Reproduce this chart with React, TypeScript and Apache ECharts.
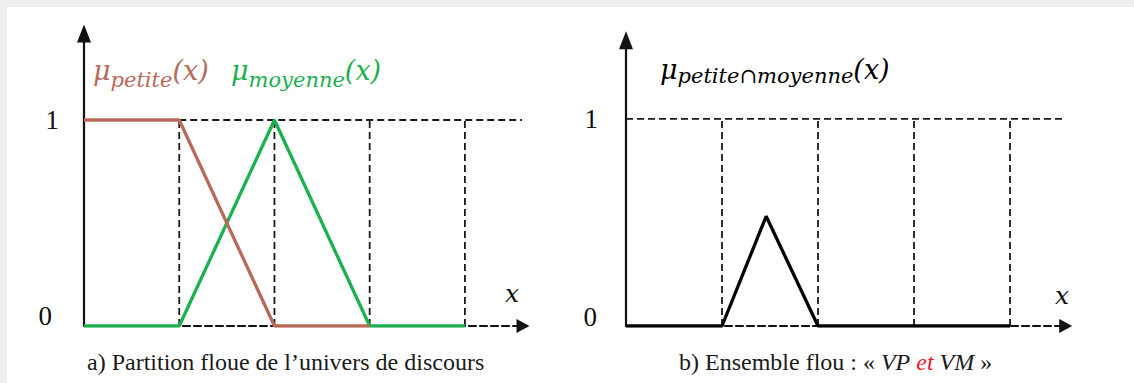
import React, { useEffect, useRef } from "react";
import * as echarts from "echarts";

// Membership functions over the universe of discourse
const gridTicks = [1, 2, 3, 4];
const yTickValues = [0, 1];
const petite: [number, number][] = [[0, 1], [1, 1], [2, 0], [3, 0]];
const moyenne: [number, number][] = [[0, 0], [1, 0], [2, 1], [3, 0], [4, 0]];
const intersection: [number, number][] = [[0, 0], [1, 0], [1.46, 0.53], [2, 0], [4, 0]];

const BROWN = "#b8695a";
const GREEN = "#1db04f";
const INK = "#111111";
const SERIF = "'Liberation Serif', 'Times New Roman', serif";
const MATH = "'DejaVu Serif', serif";

const dashStyle = { color: "#1a1a1a", width: 1.8, type: [7, 4] as number[] };

function guideSeries(axis: number, hEnd: number, hStart: number) {
  const out: any[] = gridTicks.map((t) => ({
    type: "line",
    xAxisIndex: axis,
    yAxisIndex: axis,
    data: [[t, 0], [t, 1]],
    symbol: "none",
    silent: true,
    z: 1,
    lineStyle: dashStyle,
  }));
  out.push({
    type: "line",
    xAxisIndex: axis,
    yAxisIndex: axis,
    data: [[hStart, 1], [hEnd, 1]],
    symbol: "none",
    silent: true,
    z: 1,
    lineStyle: dashStyle,
  });
  return out;
}

function xAxisCfg(gridIndex: number, max: number) {
  return {
    type: "value",
    gridIndex,
    min: 0,
    max,
    axisLine: {
      show: true,
      symbol: ["none", "triangle"],
      symbolSize: [14, 13],
      lineStyle: { color: "#111", width: 2.2, type: [7, 4] },
    },
    axisTick: { show: false },
    axisLabel: { show: false },
    splitLine: { show: false },
  };
}

function yAxisCfg(gridIndex: number, max: number, margin: number, zeroShift: number[]) {
  return {
    type: "value",
    gridIndex,
    min: 0,
    max,
    interval: 1,
    axisLine: {
      show: true,
      symbol: ["none", "triangle"],
      symbolSize: [14, 18],
      lineStyle: { color: "#111", width: 2.2 },
    },
    axisTick: { show: false },
    splitLine: { show: false },
    axisLabel: {
      margin,
      fontFamily: SERIF,
      fontSize: 27,
      color: INK,
      formatter: (v: number) =>
        yTickValues.includes(v) ? (v === 0 ? `{zero|${v}}` : `{one|${v}}`) : "",
      rich: {
        zero: { fontFamily: SERIF, fontSize: 27, color: INK, padding: zeroShift },
        one: { fontFamily: SERIF, fontSize: 27, color: INK },
      },
    },
  };
}

function mathLabel(sub: string, color: string, x: number, y: number, drop: number) {
  return {
    type: "text",
    x,
    y,
    style: {
      text: `{mu|μ}{sub|${sub}}{p|(x)}`,
      verticalAlign: "top",
      rich: {
        mu: { fontFamily: MATH, fontStyle: "italic", fontSize: 27, lineHeight: 31, verticalAlign: "top", fill: color },
        sub: {
          fontFamily: MATH,
          fontStyle: "italic",
          fontSize: 21,
          lineHeight: 25,
          verticalAlign: "top",
          padding: [drop, 0, 0, 0],
          fill: color,
        },
        p: { fontFamily: MATH, fontStyle: "italic", fontSize: 27, lineHeight: 31, verticalAlign: "top", fill: color },
      },
    },
  };
}

export default function App() {
  const ref = useRef<HTMLDivElement>(null);

  useEffect(() => {
    if (!ref.current) return;
    const chart = echarts.init(ref.current, undefined, { renderer: "svg" });
    chart.setOption({
      animation: false,
      backgroundColor: "transparent",
      grid: [
        { left: 84, top: 33.5, width: 439, height: 292.5 },
        { left: 626, top: 40.3, width: 439.7, height: 285.7 },
      ],
      xAxis: [xAxisCfg(0, 4.61), xAxisCfg(1, 4.58)],
      yAxis: [yAxisCfg(0, 1.42, 25, [0, 7, 20, 0]), yAxisCfg(1, 1.38, 28, [0, 1, 18, 0])],
      series: [
        ...guideSeries(0, 4.6, 1),
        ...guideSeries(1, 4.55, 0),
        {
          name: "moyenne",
          type: "line",
          xAxisIndex: 0,
          yAxisIndex: 0,
          data: moyenne,
          symbol: "none",
          z: 3,
          lineStyle: { color: GREEN, width: 3.3 },
        },
        {
          name: "petite",
          type: "line",
          xAxisIndex: 0,
          yAxisIndex: 0,
          data: petite,
          symbol: "none",
          z: 4,
          lineStyle: { color: BROWN, width: 3.3 },
        },
        {
          name: "petite ∩ moyenne",
          type: "line",
          xAxisIndex: 1,
          yAxisIndex: 1,
          data: intersection,
          symbol: "none",
          z: 3,
          lineStyle: { color: "#000", width: 3.3 },
        },
      ],
      graphic: [
        mathLabel("petite", BROWN, 93, 57, 12),
        mathLabel("moyenne", GREEN, 231, 57, 12),
        mathLabel("petite∩moyenne", "#000", 660, 56, 9),
        {
          type: "text",
          x: 505,
          y: 293,
          style: { text: "x", fontFamily: MATH, fontStyle: "italic", fontSize: 25, fill: INK, verticalAlign: "middle" },
        },
        {
          type: "text",
          x: 1055,
          y: 295,
          style: { text: "x", fontFamily: MATH, fontStyle: "italic", fontSize: 25, fill: INK, verticalAlign: "middle" },
        },
        {
          type: "text",
          x: 87,
          y: 362,
          style: {
            text: "a) Partition floue de l’univers de discours",
            fontFamily: SERIF,
            fontSize: 24,
            fill: "#1a1a1a",
            verticalAlign: "middle",
          },
        },
        {
          type: "text",
          x: 679,
          y: 362,
          style: {
            text: "{n|b) Ensemble flou : « }{i|VP}{r| et }{i|VM}{n| »}",
            verticalAlign: "middle",
            rich: {
              n: { fontFamily: SERIF, fontSize: 24, fill: "#1a1a1a" },
              i: { fontFamily: SERIF, fontStyle: "italic", fontSize: 24, fill: "#1a1a1a" },
              r: { fontFamily: SERIF, fontStyle: "italic", fontSize: 24, fill: "#e8192c" },
            },
          },
        },
      ],
    });
    return () => chart.dispose();
  }, []);

  return (
    <div style={{ position: "absolute", left: 0, top: 0, width: 1134, height: 383, background: "#efefef" }}>
      <div style={{ position: "absolute", left: 7, top: 7, right: 0, bottom: 0, background: "#ffffff" }} />
      <div ref={ref} style={{ position: "absolute", left: 0, top: 0, width: 1134, height: 383 }} />
    </div>
  );
}
